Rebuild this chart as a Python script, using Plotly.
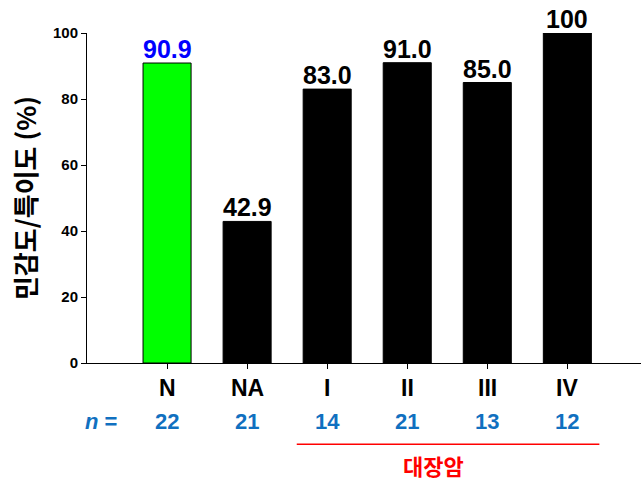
import plotly.graph_objects as go

# Sensitivity / specificity by group
categories = ["N", "NA", "I", "II", "III", "IV"]
values = [90.9, 42.9, 83.0, 91.0, 85.0, 100]
value_labels = ["90.9", "42.9", "83.0", "91.0", "85.0", "100"]
n_counts = [22, 21, 14, 21, 13, 12]
bar_colors = ["#00ff00", "#000000", "#000000", "#000000", "#000000", "#000000"]
label_colors = ["#0000ff", "#000000", "#000000", "#000000", "#000000", "#000000"]
y_ticks = [0, 20, 40, 60, 80, 100]

xpos = list(range(len(categories)))
BOLD = "Liberation Sans, Arial, sans-serif"
KR = "Noto Sans CJK KR, sans-serif"
BLUE = "#1070c0"

fig = go.Figure()
fig.add_trace(go.Bar(
    x=xpos, y=values, width=0.6,
    marker=dict(color=bar_colors, line=dict(color="#000000", width=1)),
    hoverinfo="skip",
))

annotations = []
# value labels above bars
for xi, v, lab, c in zip(xpos, values, value_labels, label_colors):
    annotations.append(dict(
        x=xi, y=v, xref="x", yref="y", text=f"<b>{lab}</b>",
        showarrow=False, yanchor="bottom", yshift=-2,
        font=dict(family=BOLD, size=25, color=c),
    ))
# category names below the axis
for xi, c in zip(xpos, categories):
    annotations.append(dict(
        x=xi, y=-0.077, xref="x", yref="paper", text=f"<b>{c}</b>",
        showarrow=False, yanchor="middle",
        font=dict(family=BOLD, size=23, color="#000000"),
    ))
# n counts row
for xi, n in zip(xpos, n_counts):
    annotations.append(dict(
        x=xi, y=-0.176, xref="x", yref="paper", text=f"<b>{n}</b>",
        showarrow=False, yanchor="middle",
        font=dict(family=BOLD, size=22, color=BLUE),
    ))
annotations.append(dict(
    x=-0.82, y=-0.176, xref="x", yref="paper", xanchor="center",
    text="<b><i>n</i> =</b>", showarrow=False, yanchor="middle",
    font=dict(family=BOLD, size=22, color=BLUE),
))
# colorectal cancer group label
annotations.append(dict(
    x=(xpos[2] + xpos[5]) / 2 - 0.17, y=-0.309, xref="x", yref="paper",
    text="<b>대장암</b>", showarrow=False, yanchor="middle",
    font=dict(family=KR, size=22, color="#ff0000"),
))

shapes = [dict(
    type="line", xref="x", yref="paper",
    x0=xpos[2] - 0.38, x1=xpos[5] + 0.4, y0=-0.246, y1=-0.246,
    line=dict(color="#ff0000", width=1.5),
)]

fig.update_layout(
    width=641, height=481,
    margin=dict(l=87, r=0, t=33, b=118),
    paper_bgcolor="white", plot_bgcolor="white",
    showlegend=False,
    annotations=annotations,
    shapes=shapes,
    xaxis=dict(
        range=[-1.0, 5.92], tickmode="array", tickvals=xpos,
        showticklabels=False,
        ticks="outside", ticklen=5, tickcolor="#000000", tickwidth=1,
        showline=True, linecolor="#000000", linewidth=1,
        showgrid=False, zeroline=False, fixedrange=True,
    ),
    yaxis=dict(
        range=[0, 100], tickmode="array", tickvals=y_ticks,
        ticktext=[f"<b>{t}</b>" for t in y_ticks],
        tickfont=dict(family=BOLD, size=15, color="#000000"),
        ticks="outside", ticklen=5, tickcolor="#000000", tickwidth=1,
        showline=True, linecolor="#000000", linewidth=1,
        showgrid=False, zeroline=False, fixedrange=True,
        title=dict(text="<b>민감도/특이도 (%)</b>",
                   font=dict(family=KR, size=26, color="#000000"), standoff=8),
    ),
)

fig.write_html("out.html")
